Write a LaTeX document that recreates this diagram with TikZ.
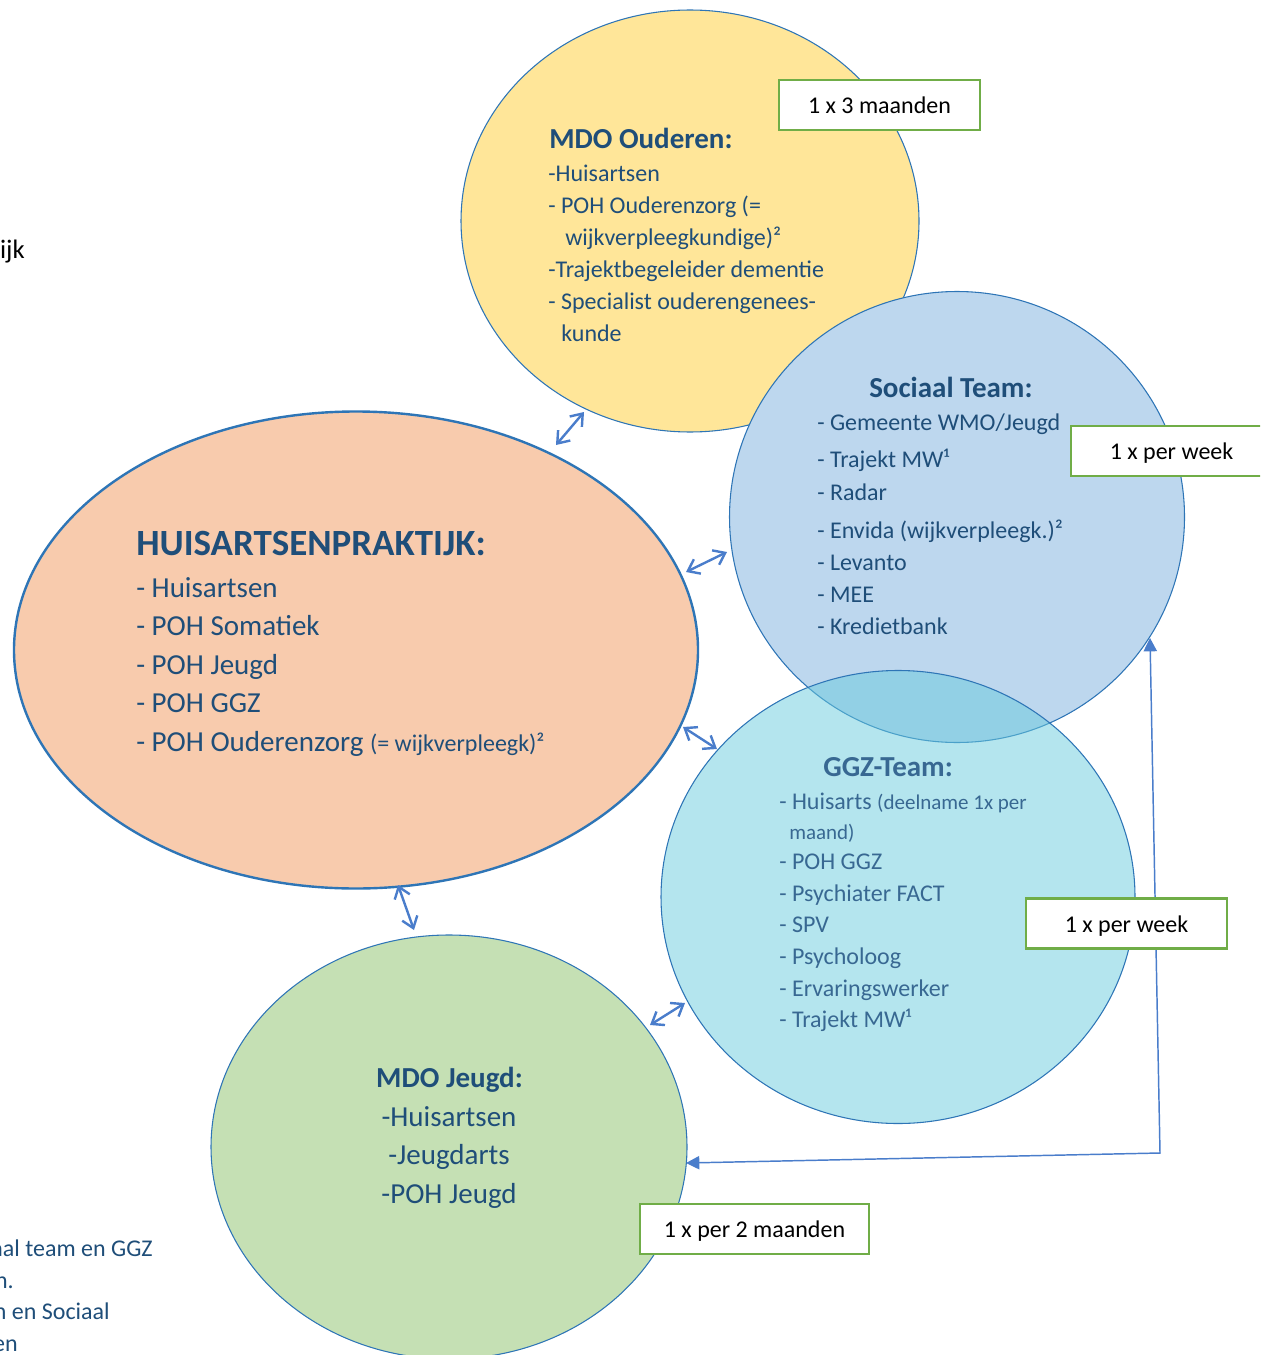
\documentclass[tikz,border=0pt]{standalone}
\usepackage{fontspec}
\setmainfont{Carlito}
\usetikzlibrary{shapes.geometric,arrows.meta}

\definecolor{textblue}{HTML}{1F4E79}
\definecolor{ggztext}{HTML}{386892}
\definecolor{bubbleline}{HTML}{2E75B6}
\definecolor{arrowblue}{HTML}{4A7DCB}
\definecolor{freqgreen}{HTML}{70AD47}
\definecolor{oudfill}{HTML}{FFE699}
\definecolor{socfill}{HTML}{BDD7EE}
\definecolor{ggzfill}{HTML}{69CBDD}
\definecolor{huisfill}{HTML}{F8CBAD}
\definecolor{jeugdfill}{HTML}{C5E0B4}

\tikzset{
    bubble/.style={ellipse, draw=bubbleline, line width=0.8pt, inner sep=0pt},
    freqbox/.style={draw=freqgreen, line width=2.2pt, fill=white, inner sep=0pt,
        minimum width=150.75pt, minimum height=37.5pt, text height=15pt, text depth=2pt,
        font=\fontsize{18pt}{22pt}\selectfont, text=black},
    teamtitle/.style={anchor=base west, inner sep=0pt, text=textblue,
        font=\fontsize{21.75pt}{26pt}\selectfont\bfseries},
    teamitem/.style={anchor=base west, inner sep=0pt, text=textblue,
        font=\fontsize{18pt}{22pt}\selectfont},
    linkarrow/.style={arrowblue, line width=1.8pt,
        {Straight Barb[length=8pt,width=12pt]}-{Straight Barb[length=8pt,width=12pt]}},
}

\begin{document}
\begin{tikzpicture}[x=0.75pt, y=-0.75pt]

        \useasboundingbox (0,0) rectangle (1260,1355);
        \clip (0,0) rectangle (1260,1355);

        % circles
        \node[bubble, fill=oudfill, minimum width=343.5pt, minimum height=316.5pt] (ouderen) at (690,221) {};
        \node[bubble, fill=socfill, minimum width=341.25pt, minimum height=338.25pt] (sociaal) at (957,517) {};
        \node[bubble, fill=ggzfill, fill opacity=0.5, minimum width=355.5pt, minimum height=339.75pt] (ggz) at (898,897) {};
        \node[bubble, fill=huisfill, line width=1.8pt, minimum width=513pt, minimum height=357.75pt] (huis) at (356,650) {};
        \node[bubble, fill=jeugdfill, minimum width=357pt, minimum height=318pt] (jeugd) at (449,1147) {};

        % arrow ends
        \coordinate (huisOud) at (556,445);
        \coordinate (oudHuis) at (584,412);
        \coordinate (huisSoc) at (686,572);
        \coordinate (socHuis) at (727,552);
        \coordinate (huisGgz) at (683,727);
        \coordinate (ggzHuis) at (717,749);
        \coordinate (huisJeugd) at (398,885);
        \coordinate (jeugdHuis) at (414,930);
        \coordinate (jeugdGgz) at (650,1025);
        \coordinate (ggzJeugd) at (685,1003);

        \draw[linkarrow] (huisOud) -- (oudHuis);
        \draw[linkarrow] (huisSoc) -- (socHuis);
        \draw[linkarrow] (huisGgz) -- (ggzHuis);
        \draw[linkarrow] (huisJeugd) -- (jeugdHuis);
        \draw[linkarrow] (jeugdGgz) -- (ggzJeugd);

        % line from sociaal team round to mdo jeugd
        \coordinate (socFoot) at (1150,638);
        \coordinate (corner) at (1160,1153);
        \coordinate (jeugdSide) at (686,1163);
        \draw[arrowblue, line width=1.1pt, {Triangle[length=10pt,width=10pt]}-{Triangle[length=10pt,width=10pt]}]
            (socFoot) -- (corner) -- (jeugdSide);

        % frequency boxes
        \node[freqbox] (freqOud) at (879.5,105) {1 x 3 maanden};
        \node[freqbox] (freqSoc) at (1171.5,451) {1 x per week};
        \node[freqbox] (freqGgz) at (1126.5,923.5) {1 x per week};
        \node[freqbox, minimum width=171.75pt] (freqJeugd) at (754.5,1229) {1 x per 2 maanden};

        % HUISARTSENPRAKTIJK
        \node[teamtitle, font=\fontsize{27.75pt}{32pt}\selectfont\bfseries] (huisTitle) at (136,555) {HUISARTSENPRAKTIJK:};
        \foreach \t [count=\i] in {{- Huisartsen}, {- POH Somatiek}, {- POH Jeugd}, {- POH GGZ},
                {- POH Ouderenzorg {\fontsize{18pt}{20pt}\selectfont(= wijkverpleegk)²}}}
            \node[teamitem, font=\fontsize{21.75pt}{26pt}\selectfont] (huis\i) at (136,{597+38.6*(\i-1)}) {\t};

        % MDO Ouderen
        \node[teamtitle] (oudTitle) at (549,149) {MDO Ouderen:};
        \foreach \x/\y/\t [count=\i] in {548/182/{-Huisartsen}, 548/214/{- POH Ouderenzorg (=},
                565/246/{wijkverpleegkundige)²}, 548/277/{-Trajektbegeleider dementie},
                548/309/{- Specialist ouderengenees-}, 561/341/{kunde}}
            \node[teamitem] (oud\i) at (\x,\y) {\t};

        % Sociaal Team
        \node[teamtitle] (socTitle) at (869,397) {Sociaal Team:};
        \foreach \y/\t [count=\i] in {430/{- Gemeente WMO/Jeugd}, 467/{- Trajekt MW¹}, 500/{- Radar},
                538/{- Envida (wijkverpleegk.)²}, 570/{- Levanto}, 602/{- MEE}, 634/{- Kredietbank}}
            \node[teamitem] (soc\i) at (817,\y) {\t};

        % GGZ-Team
        \node[teamtitle, text=ggztext] (ggzTitle) at (823,776) {GGZ-Team:};
        \foreach \x/\y/\t [count=\i] in {779/809/{- Huisarts {\fontsize{15.75pt}{18pt}\selectfont(deelname 1x per}},
                789/839/{\fontsize{15.75pt}{18pt}\selectfont maand)}, 779/869/{- POH GGZ},
                779/901/{- Psychiater FACT}, 779/932/{- SPV}, 779/964/{- Psycholoog},
                779/996/{- Ervaringswerker}, 779/1027/{- Trajekt MW¹}}
            \node[teamitem, text=ggztext] (ggz\i) at (\x,\y) {\t};

        % MDO Jeugd
        \node[teamtitle, anchor=base] (jeugdTitle) at (449.5,1087) {MDO Jeugd:};
        \foreach \t [count=\i] in {-Huisartsen, -Jeugdarts, -POH Jeugd}
            \node[teamitem, anchor=base, font=\fontsize{21.75pt}{26pt}\selectfont] (jeugd\i) at (449,{1126+38.5*(\i-1)}) {\t};

        % cut-off text at the left edge
        \node[teamitem, anchor=base east, text=black, font=\fontsize{20pt}{24pt}\selectfont] (edgeTop) at (25,258) {ijk};
        \foreach \x/\y/\t [count=\i] in {153/1256/{aal team en GGZ}, 14/1288/{n.}, 110/1319/{n en Sociaal}, 18/1351/{en}}
            \node[teamitem, anchor=base east] (edge\i) at (\x,\y) {\t};

\end{tikzpicture}
\end{document}
